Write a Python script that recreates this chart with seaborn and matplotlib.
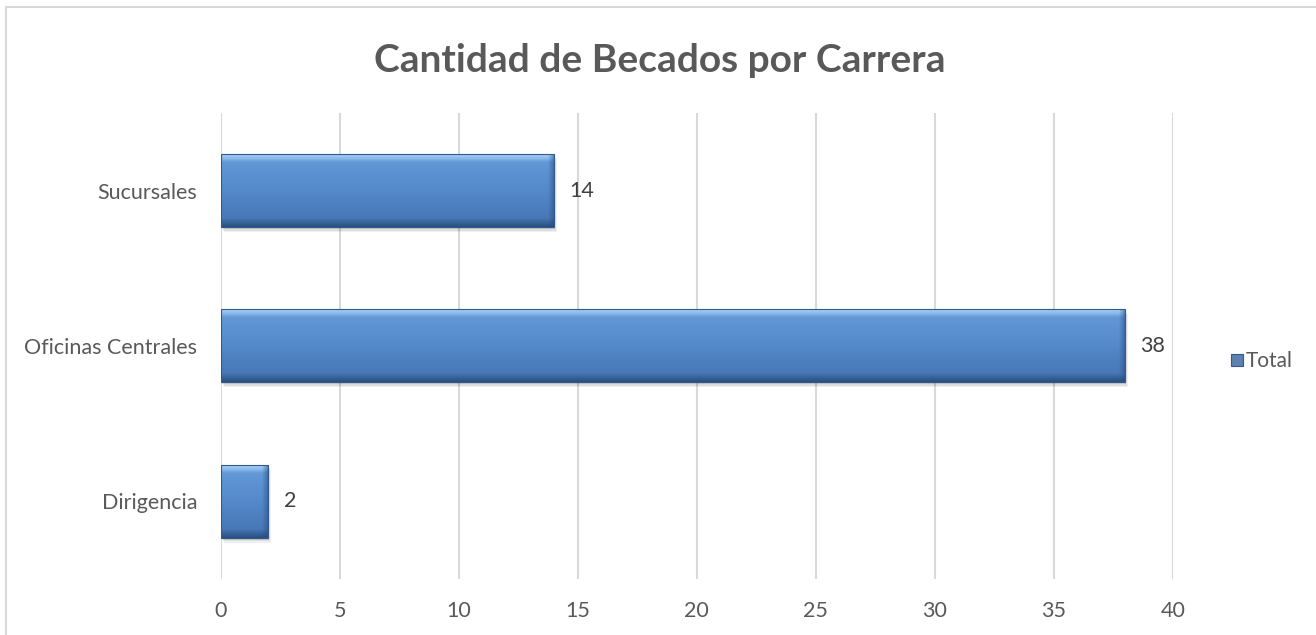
import matplotlib
matplotlib.use("Agg")
import matplotlib.pyplot as plt
import matplotlib.patches as mpatches
import matplotlib.transforms as mtransforms
import numpy as np
import pandas as pd
import seaborn as sns
from matplotlib.colors import LinearSegmentedColormap

categorias = ["Sucursales", "Oficinas Centrales", "Dirigencia"]
totales = [14, 38, 2]
serie = ["Total", "Total", "Total"]
x_ticks = [0, 5, 10, 15, 20, 25, 30, 35, 40]

TEXT = "#595959"
GRID = "#d9d9d9"
BAR = "#4f81bd"


def bevel_bars(ax, patches):
    # vertical gradient clipped to each bar, to imitate the Excel bevel look
    cmap = LinearSegmentedColormap.from_list("bev", [
        (0.0, "#b0d5f6"), (0.07, "#8ab9ea"), (0.12, "#6298d6"), (0.5, "#5489cb"),
        (0.88, "#4878b6"), (0.93, "#3b679f"), (1.0, "#2a4f80")])
    grad = np.linspace(0, 1, 200).reshape(-1, 1)
    # right rim: transparent -> dark
    rim = np.zeros((1, 50, 4))
    rim[..., 0:3] = np.array([0.16, 0.30, 0.50])
    rim[..., 3] = np.linspace(0, 0.55, 50)
    fig = ax.figure
    px = 1 / (ax.get_window_extent().width / 40.0)
    for p in patches:
        x0, y0 = p.get_x(), p.get_y()
        w, h = p.get_width(), p.get_height()
        for k, a in enumerate([0.10, 0.08, 0.06]):
            sh = mpatches.Rectangle((x0, y0), w, h,
                                    transform=ax.transData + mtransforms.ScaledTranslation(
                                        (1 + k) / 100, -(2 + 1.5 * k) / 100, fig.dpi_scale_trans),
                                    facecolor="#000000", alpha=a, lw=0, zorder=1)
            ax.add_patch(sh)
        im = ax.imshow(grad, cmap=cmap, aspect="auto", extent=(x0, x0 + w, y0 + h, y0),
                       zorder=3, interpolation="bilinear")
        im.set_clip_path(p)
        r = ax.imshow(rim, aspect="auto", extent=(x0 + w - 6 * px, x0 + w, y0 + h, y0),
                      zorder=3.5, interpolation="bilinear")
        r.set_clip_path(p)
        edge = mpatches.Rectangle((x0, y0), w, h, fill=False, edgecolor="#2f5a8c",
                                  linewidth=0.8, zorder=4)
        ax.add_patch(edge)


def main():
    df = pd.DataFrame({"categoria": categorias, "Total": totales, "serie": serie})

    sns.set_theme(style="white")
    plt.rcParams["font.family"] = ["Lato", "DejaVu Sans"]

    fig = plt.figure(figsize=(13.16, 6.35), dpi=100)
    ax = fig.add_axes([0.1677, 0.0882, 0.7234, 0.7339])

    sns.barplot(data=df, x="Total", y="categoria", hue="serie", palette=[BAR],
                order=categorias, width=0.47, orient="h", ax=ax,
                linewidth=0, legend=True)
    ax.set_xlim(0, 40)
    ax.set_ylim(2.5, -0.5)

    bars = [p for p in ax.patches if p.get_width() > 0]
    bevel_bars(ax, bars)
    ax.set_xlim(0, 40)
    ax.set_ylim(2.5, -0.5)

    for p, v in zip(bars, totales):
        ax.text(p.get_x() + p.get_width() + 0.65, p.get_y() + p.get_height() / 2, str(v),
                va="center", ha="left", fontsize=15.5, color="#404040", zorder=5)

    ax.set_xticks(x_ticks)
    ax.xaxis.grid(True, color=GRID, linewidth=1.5)
    ax.set_axisbelow(True)
    for s in ax.spines.values():
        s.set_visible(False)
    ax.set_xlabel("")
    ax.set_ylabel("")
    ax.tick_params(axis="x", length=0, pad=16, labelsize=15.5, labelcolor=TEXT)
    ax.tick_params(axis="y", length=0, pad=17, labelsize=15.5, labelcolor=TEXT)

    sns.move_legend(ax, "center left", bbox_to_anchor=(0.9355, 0.431),
                    bbox_transform=fig.transFigure, frameon=False, title=None,
                    handlelength=0.55, handleheight=0.55, handletextpad=0.15,
                    fontsize=15, borderpad=0, borderaxespad=0)
    leg = ax.get_legend()
    for t in leg.get_texts():
        t.set_color(TEXT)
    for h in leg.legend_handles:
        h.set_edgecolor("#2f5a8c")
        h.set_linewidth(0.8)

    fig.text(0.5015, 0.905, "Cantidad de Becados por Carrera", ha="center", va="center",
             fontsize=28, fontweight="bold", color=TEXT)

    border = mpatches.Rectangle((6 / 1316, -0.01), 1.1, (635 - 7) / 635 + 0.01,
                                transform=fig.transFigure, fill=False,
                                edgecolor=GRID, linewidth=1.5)
    fig.patches.append(border)

    fig.savefig("out.png", dpi=100, facecolor="white")


if __name__ == "__main__":
    main()
